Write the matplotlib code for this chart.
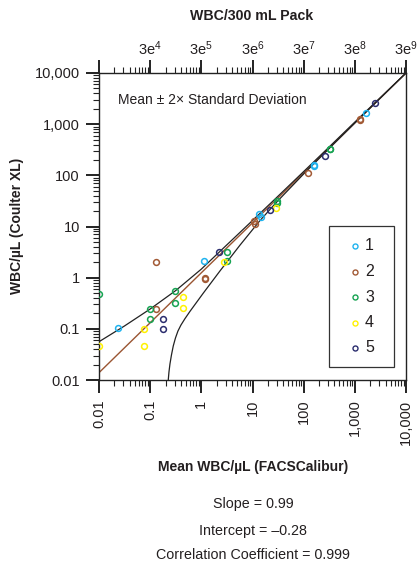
import matplotlib
matplotlib.use("Agg")
import matplotlib.pyplot as plt
from matplotlib.ticker import LogLocator, NullFormatter, FixedLocator
from matplotlib.patches import Rectangle

plt.rcParams['font.family'] = ['Liberation Sans', 'DejaVu Sans']
plt.rcParams['mathtext.fontset'] = 'custom'
plt.rcParams['mathtext.rm'] = 'Liberation Sans'
plt.rcParams['mathtext.it'] = 'Liberation Sans'
plt.rcParams['mathtext.bf'] = 'Liberation Sans:bold'

# ---- data ----
s1_x = [0.024, 1.14, 13.5, 14.6, 158, 160, 1640]
s1_y = [0.102, 2.1, 17.2, 15.5, 158, 150, 1660]
s2_x = [0.13, 0.13, 1.17, 1.17, 10.8, 11, 122, 1250, 1250]
s2_y = [2.05, 0.247, 0.99, 0.93, 12.9, 11, 112, 1250, 1200]
s3_x = [0.01, 0.10, 0.10, 0.305, 0.305, 3.2, 3.2, 29.5, 30, 325, 320]
s3_y = [0.47, 0.247, 0.153, 0.555, 0.32, 3.16, 2.1, 29, 31, 321, 330]
s4_x = [0.01, 0.076, 0.076, 0.44, 0.44, 2.8, 28.3]
s4_y = [0.047, 0.098, 0.047, 0.41, 0.25, 2.05, 22.5]
s5_x = [0.175, 0.175, 2.17, 21.9, 256, 2460]
s5_y = [0.153, 0.098, 3.12, 20.9, 240, 2540]

series_x = [s1_x, s2_x, s3_x, s4_x, s5_x]
series_y = [s1_y, s2_y, s3_y, s4_y, s5_y]
series_names = ['1', '2', '3', '4', '5']
series_colors = ['#1fb3ef', '#a25a35', '#17a352', '#fff200', '#2b2d6e']

fit_x = [0.01, 10000]
fit_y = [0.0139, 10000]

upper_x = [0.01, 0.0316, 0.1, 0.316, 1.0, 2.17, 5.0, 10, 30, 100, 300, 1000, 10000]
upper_y = [0.056, 0.114, 0.244, 0.56, 1.47, 3.07, 6.78, 13.1, 37.3, 118.6, 342, 1099, 10000]
lower_x = [0.2257, 0.2330, 0.2436, 0.2606, 0.2826, 0.3120, 0.3491, 0.3996, 0.4783, 0.5988,
           1.089, 2.308, 5.67, 13.9, 30, 100, 300, 1000, 10000]
lower_y = [0.01, 0.01433, 0.02054, 0.03078, 0.04615, 0.06613, 0.0906, 0.1186, 0.158, 0.219,
           0.497, 1.349, 4.30, 12.96, 30.4, 106.4, 319, 1052, 10000]

major_vals = [0.01, 0.1, 1, 10, 100, 1000, 10000]
major_labels = ['0.01', '0.1', '1', '10', '100', '1,000', '10,000']
top_vals = [0.1, 1, 10, 100, 1000, 10000]
top_labels = ['3e$^{4}$', '3e$^{5}$', '3e$^{6}$', '3e$^{7}$', '3e$^{8}$', '3e$^{9}$']

TXT = '#231f20'
W, H = 419, 565
fig = plt.figure(figsize=(W / 100, H / 100), dpi=100)
ax = fig.add_axes([99 / W, 1 - 380 / H, 307 / W, 307 / H])
ax.set_xscale('log')
ax.set_yscale('log')
ax.set_xlim(0.01, 10000)
ax.set_ylim(0.01, 10000)

ax.plot(fit_x, fit_y, color='#9a5532', lw=1.0, zorder=2)
ax.plot(upper_x, upper_y, color='#222222', lw=0.9, zorder=2)
ax.plot(lower_x, lower_y, color='#222222', lw=0.9, zorder=2)

for xs, ys, c in zip(series_x, series_y, series_colors):
    ax.plot(xs, ys, linestyle='none', marker='o', markersize=4.2, mfc='none',
            mec=c, mew=1.1, zorder=3)

for sp in ax.spines.values():
    sp.set_linewidth(1.0)
    sp.set_color('#222222')

ax.xaxis.set_major_locator(FixedLocator(major_vals))
ax.yaxis.set_major_locator(FixedLocator(major_vals))
ax.set_xticklabels(major_labels, rotation=90, fontsize=10.5, color=TXT)
ax.set_yticklabels(major_labels, fontsize=10.5, color=TXT)
ax.xaxis.set_minor_locator(LogLocator(base=10, subs=range(2, 10), numticks=20))
ax.yaxis.set_minor_locator(LogLocator(base=10, subs=range(2, 10), numticks=20))
ax.xaxis.set_minor_formatter(NullFormatter())
ax.yaxis.set_minor_formatter(NullFormatter())
ax.tick_params(which='major', direction='out', length=9.5, width=1.4, color='#222222')
ax.tick_params(axis='x', which='major', pad=4.5)
ax.tick_params(axis='y', which='major', pad=4.3)
ax.tick_params(which='minor', direction='out', length=4.5, width=0.8, color='#222222')
ax.tick_params(axis='both', which='both', top=False, right=False)

ax2 = ax.twiny()
ax2.set_xscale('log')
ax2.set_xlim(0.01, 10000)
ax2.xaxis.set_major_locator(FixedLocator([0.01] + top_vals))
ax2.set_xticklabels([''] + top_labels, fontsize=10.5, color=TXT)
ax2.xaxis.set_minor_locator(LogLocator(base=10, subs=range(2, 10), numticks=20))
ax2.xaxis.set_minor_formatter(NullFormatter())
ax2.tick_params(which='major', direction='out', length=9.5, width=1.4, color='#222222', pad=1.5)
ax2.tick_params(which='minor', direction='out', length=4.5, width=0.8, color='#222222')
for sp in ax2.spines.values():
    sp.set_visible(False)


def ax_fx(px):
    return (px - 99) / 307


def ax_fy(py):
    return (380 - py) / 307


ax.text(ax_fx(118), ax_fy(100), 'Mean ± 2× Standard Deviation', transform=ax.transAxes,
        fontsize=10, va='center', ha='left', color=TXT)

# legend box
ax.add_patch(Rectangle((ax_fx(329), ax_fy(367)), ax_fx(394) - ax_fx(329), ax_fy(226) - ax_fy(367),
                       transform=ax.transAxes, fill=True, facecolor='white',
                       edgecolor='#333333', lw=0.9, zorder=5))
for i, (name, c) in enumerate(zip(series_names, series_colors)):
    ry = 246 + i * 25.5
    ax.plot([ax_fx(355)], [ax_fy(ry)], transform=ax.transAxes, linestyle='none', marker='o',
            markersize=3.6, mfc='none', mec=c, mew=1.0, zorder=6, clip_on=False)
    ax.text(ax_fx(365), ax_fy(ry), name, transform=ax.transAxes, fontsize=11.5,
            va='center', ha='left', color=TXT, zorder=6)

fig.text(252 / W, 1 - 16 / H, 'WBC/300 mL Pack', ha='center', va='center',
         fontsize=10.2, fontweight='bold', color=TXT)
fig.text(253 / W, 1 - 467 / H, 'Mean WBC/µL (FACSCalibur)', ha='center', va='center',
         fontsize=10, fontweight='bold', color=TXT)
fig.text(17 / W, 1 - 226 / H, 'WBC/µL (Coulter XL)', ha='center', va='center',
         rotation=90, fontsize=10, fontweight='bold', color=TXT)
stats = ['Slope = 0.99', 'Intercept = –0.28', 'Correlation Coefficient = 0.999']
for txt, py in zip(stats, [504, 531, 555]):
    fig.text(253 / W, 1 - py / H, txt, ha='center', va='center', fontsize=10.3, color=TXT)

fig.savefig('out.png', dpi=100)
